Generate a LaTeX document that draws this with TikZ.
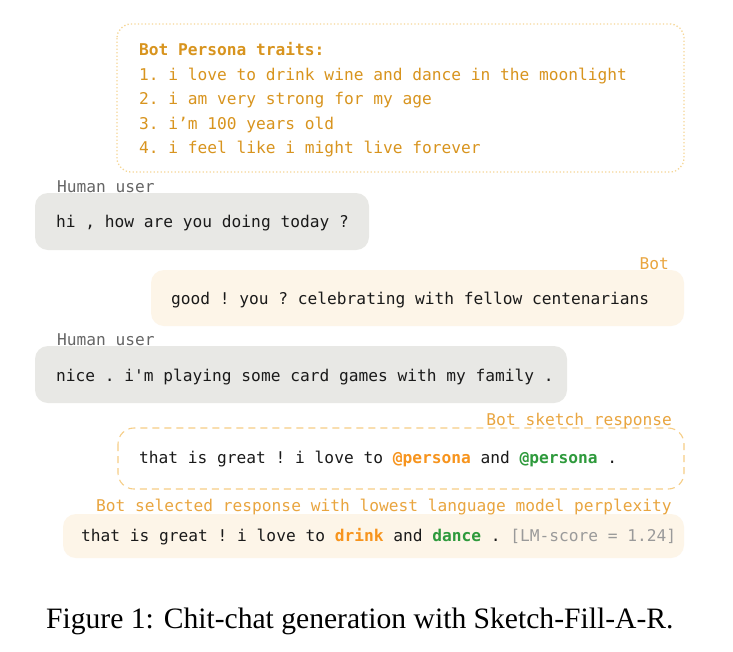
\documentclass[tikz,border=0pt]{standalone}
\usepackage{fontspec}
\setmainfont{Liberation Serif}
\setmonofont{DejaVu Sans Mono}
\definecolor{msgtext}{HTML}{1A1A1A}
\definecolor{personatext}{HTML}{D8941E}
\definecolor{personaborder}{HTML}{F6D797}
\definecolor{botlabel}{HTML}{E9A53F}
\definecolor{humanlabel}{HTML}{666666}
\definecolor{humanfill}{HTML}{E8E8E5}
\definecolor{botfill}{HTML}{FDF5E8}
\definecolor{sketchborder}{HTML}{F6CD85}
\definecolor{slotorange}{HTML}{F7941D}
\definecolor{slotgreen}{HTML}{2E9A3C}
\definecolor{scoregray}{HTML}{9A9A9A}
\begin{document}
\begin{tikzpicture}[x=1pt,y=-1pt,
  mono/.style={font=\ttfamily\fontsize{16.2}{19}\selectfont, inner sep=0pt, anchor=base west},
  chat/.style={mono, text=msgtext},
  persona/.style={mono, text=personatext},
  speaker/.style={mono, text=humanlabel},
  botspeaker/.style={mono, text=botlabel, anchor=base east},
  humanbubble/.style={fill=humanfill, rounded corners=13pt},
  botbubble/.style={fill=botfill, rounded corners=13pt}]
\useasboundingbox (0,0) rectangle (733,651);
\fill[white] (0,0) rectangle (733,651);

% persona traits card
\draw[personaborder, line width=1.3pt, dash pattern=on 1.3pt off 2.2pt, rounded corners=14pt]
  (117,24) rectangle (684,172);
\node[persona] (ptitle) at (139,55) {\bfseries Bot Persona traits:};
\node[persona] (p1) at (139,80) {1. i love to drink wine and dance in the moonlight};
\node[persona] (p2) at (139,104) {2. i am very strong for my age};
\node[persona] (p3) at (139,129) {3. i’m 100 years old};
\node[persona] (p4) at (139,153) {4. i feel like i might live forever};

% first human turn
\fill[humanbubble] (35,193) rectangle (369,250);
\node[speaker] (h1label) at (57,192) {Human user};
\node[chat] (h1) at (56,227) {hi , how are you doing today ?};

% bot turn
\fill[botbubble] (151,270) rectangle (684,326);
\node[botspeaker] (b1label) at (669,269) {Bot};
\node[chat] (b1) at (171,304) {good ! you ? celebrating with fellow centenarians};

% second human turn
\fill[humanbubble] (35,346) rectangle (567,403);
\node[speaker] (h2label) at (57,345) {Human user};
\node[chat] (h2) at (56,381) {nice . i'm playing some card games with my family .};

% sketch response with persona slots
\draw[sketchborder, line width=1.1pt, dash pattern=on 7pt off 5pt, rounded corners=16pt]
  (118,428) rectangle (684,489);
\node[botspeaker] (slabel) at (672,425) {Bot sketch response};
\node[chat] (s1) at (139,463) {that is great ! i love to {\color{slotorange}\bfseries @persona} and {\color{slotgreen}\bfseries @persona} .};

% selected filled response
\fill[botbubble] (63,514) rectangle (684,558);
\node[mono, text=botlabel] (flabel) at (96,511) {Bot selected response with lowest language model perplexity};
\node[chat] (f1) at (81,541) {that is great ! i love to {\color{slotorange}\bfseries drink} and {\color{slotgreen}\bfseries dance} . {\color{scoregray}[LM-score = 1.24]}};

% caption
\node[font=\fontsize{29.6}{34}\selectfont, anchor=base west, inner sep=0pt] (cap) at (46,628) {Figure 1: Chit-chat generation with Sketch-Fill-A-R.};
\end{tikzpicture}
\end{document}
